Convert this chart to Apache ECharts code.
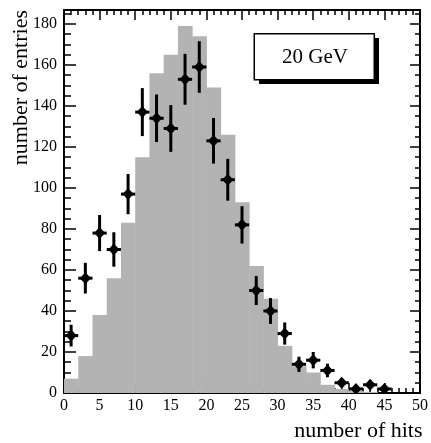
<!DOCTYPE html>
<html>
<head>
<meta charset="utf-8">
<script src="https://cdn.jsdelivr.net/npm/echarts@6/dist/echarts.min.js"></script>
<style>
html,body{margin:0;padding:0;background:#fff;}
#chart{width:431px;height:443px;}
</style>
</head>
<body>
<div id="chart"></div>
<script>
// Simulation histogram (gray): lower bin edges, bin width 2
var binLow = [0,2,4,6,8,10,12,14,16,18,20,22,24,26,28,30,32,34,36,38,40,42,44,46,48];
var mcCounts = [7,18,38,56,83,115,156,165,179,174,149,126,93,62,46,23,13,10,4,2,1,0.5,0,0,0];
// Data points (black): bin centres, counts, vertical errors
var dataX = [1,3,5,7,9,11,13,15,17,19,21,23,25,27,29,31,33,35,37,39,41,43,45];
var dataY = [28,56,78,70,97,137,134,129,153,159,123,104,82,50,40,29,14,16,11,5,2,4,2];
var dataErr = [5.3,7.5,8.8,8.4,9.8,11.7,11.6,11.4,12.4,12.6,11.1,10.2,9.1,7.1,6.3,5.4,3.7,4.0,3.3,2.2,1.4,2.0,1.4];
var binWidth = 2;
var labelText = '20 GeV';
var xTitle = 'number of hits';
var yTitle = 'number of entries';

var FONT = '"Liberation Serif", "DejaVu Serif", serif';
var chart = echarts.init(document.getElementById('chart'), null, {renderer: 'canvas'});

var mcData = binLow.map(function (x, i) { return [x, x + binWidth, mcCounts[i]]; });
var ptData = dataX.map(function (x, i) { return [x, dataY[i], dataErr[i]]; });

function axisBase(extra) {
  var base = {
    type: 'value',
    axisLine: {show: true, onZero: false, lineStyle: {color: '#000', width: 2}},
    axisTick: {show: true, inside: true, lineStyle: {color: '#000', width: 1.5}},
    axisLabel: {show: false},
    splitLine: {show: false}
  };
  for (var k in extra) base[k] = extra[k];
  return base;
}

var YMAX = 186.8;

var option = {
  animation: false,
  backgroundColor: '#fff',
  grid: {left: 64, right: 8, top: 10, bottom: 50, containLabel: false},
  xAxis: [
    axisBase({position: 'bottom', min: 0, max: 50, interval: 5,
      axisTick: {show: true, inside: true, length: 10, lineStyle: {color: '#000', width: 1.5}},
      minorTick: {show: true, splitNumber: 5, length: 5, lineStyle: {color: '#000', width: 1.5}},
      axisLabel: {show: true, color: '#000', fontFamily: FONT, fontSize: 16, margin: 5}
    }),
    axisBase({position: 'top', min: 0, max: 50, interval: 5,
      axisTick: {show: true, inside: true, length: 10, lineStyle: {color: '#000', width: 1.5}},
      minorTick: {show: true, splitNumber: 5, length: 5, lineStyle: {color: '#000', width: 1.5}}
    })
  ],
  yAxis: [
    axisBase({position: 'left', min: 0, max: YMAX, interval: 20,
      axisTick: {show: true, inside: true, length: 12, lineStyle: {color: '#000', width: 1.5}},
      axisLabel: {show: true, color: '#000', fontFamily: FONT, fontSize: 16, margin: 7, showMaxLabel: false}
    }),
    axisBase({position: 'left', min: 0, max: YMAX, interval: 5,
      axisTick: {show: true, inside: true, length: 7, lineStyle: {color: '#000', width: 1.5}}
    }),
    axisBase({position: 'right', min: 0, max: YMAX, interval: 20,
      axisTick: {show: true, inside: true, length: 10, lineStyle: {color: '#000', width: 1.5}}
    }),
    axisBase({position: 'right', min: 0, max: YMAX, interval: 5,
      axisTick: {show: true, inside: true, length: 5, lineStyle: {color: '#000', width: 1.5}}
    })
  ],
  series: [
    {
      type: 'custom',
      xAxisIndex: 0, yAxisIndex: 0,
      clip: true,
      z: 1,
      data: mcData,
      renderItem: function (params, api) {
        var p0 = api.coord([api.value(0), api.value(2)]);
        var p1 = api.coord([api.value(1), 0]);
        return {
          type: 'rect',
          shape: {x: p0[0], y: p0[1], width: p1[0] - p0[0] + 0.5, height: p1[1] - p0[1]},
          style: {fill: '#b3b3b3', stroke: null}
        };
      }
    },
    {
      type: 'custom',
      xAxisIndex: 0, yAxisIndex: 0,
      clip: true,
      z: 2,
      data: ptData,
      renderItem: function (params, api) {
        var x = api.value(0), y = api.value(1), e = api.value(2);
        var c = api.coord([x, y]);
        var top = api.coord([x, y + e]);
        var bot = api.coord([x, Math.max(0, y - e)]);
        var l = api.coord([x - binWidth / 2, y]);
        var r = api.coord([x + binWidth / 2, y]);
        return {
          type: 'group',
          children: [
            {type: 'line', shape: {x1: c[0], y1: top[1], x2: c[0], y2: bot[1]}, style: {stroke: '#000', lineWidth: 3}},
            {type: 'line', shape: {x1: l[0], y1: c[1], x2: r[0], y2: c[1]}, style: {stroke: '#000', lineWidth: 3}},
            {type: 'polygon', shape: {points: [[c[0], c[1] - 6], [c[0] + 5.5, c[1]], [c[0], c[1] + 6], [c[0] - 5.5, c[1]]]}, style: {fill: '#000'}}
          ]
        };
      }
    }
  ],
  graphic: [
    {type: 'rect', left: 259, top: 38, shape: {width: 120, height: 46}, style: {fill: '#000'}, z: 10},
    {type: 'rect', left: 253.5, top: 33, shape: {width: 120, height: 46}, style: {fill: '#fff', stroke: '#000', lineWidth: 1.5}, z: 11},
    {type: 'text', x: 315, y: 57, z: 12, style: {text: labelText, font: '21px ' + FONT, fill: '#000', align: 'center', verticalAlign: 'middle'}},
    {type: 'text', x: 422.5, y: 431, z: 12, style: {text: xTitle, font: '22px ' + FONT, fill: '#000', align: 'right', verticalAlign: 'middle'}},
    {type: 'text', x: 21, y: 10, rotation: Math.PI / 2, z: 12, style: {text: yTitle, font: '22px ' + FONT, fill: '#000', align: 'right', verticalAlign: 'middle'}}
  ]
};
chart.setOption(option);
</script>
</body>
</html>
